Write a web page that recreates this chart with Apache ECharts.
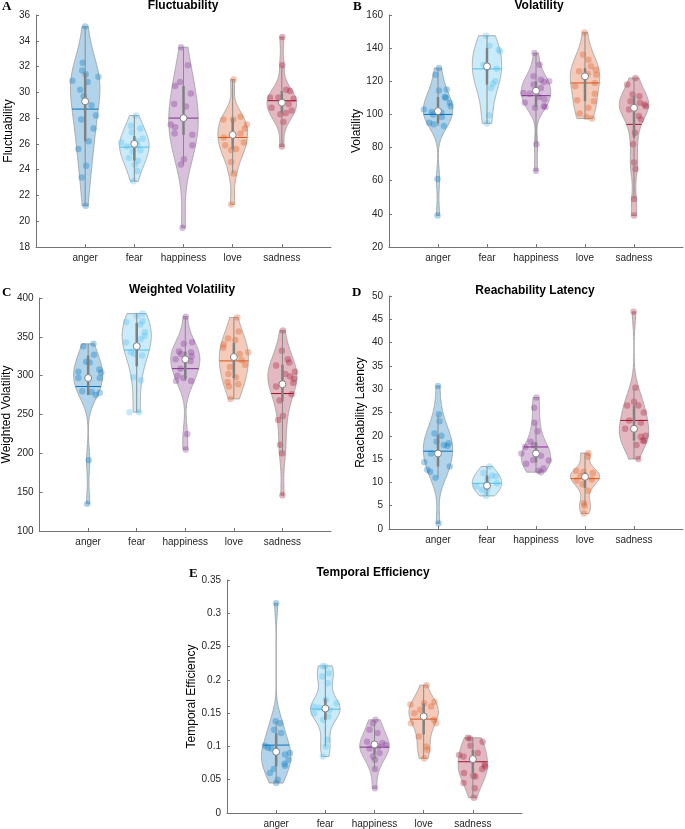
<!DOCTYPE html>
<html><head><meta charset="utf-8">
<script src="https://cdn.jsdelivr.net/npm/echarts@6/dist/echarts.min.js"></script>
<style>html,body{margin:0;padding:0;background:#fff}#c{width:685px;height:829px}</style>
</head><body><div id="c"></div>
<script>
const categories = ['anger','fear','happiness','love','sadness'];
const groupColors = ['#0072BD','#4DBEEE','#7E2F8E','#D95319','#A2142F'];

// ---- A: Fluctuability ----
const flucValues = [
  [35.1,32.3,31.7,31.4,30.9,31.2,30.8,30.2,29.7,29.0,28.2,27.9,27.2,26.2,25.6,24.3,23.4,21.2],
  [28.2,27.4,27.2,26.9,26.4,26.1,26.2,25.8,25.9,25.5,25.4,24.9,24.7,24.4,23.9,23.1],
  [33.5,32.1,30.8,30.5,29.9,29.1,28.9,28.0,27.5,27.3,26.8,26.7,25.9,24.8,24.4,19.5],
  [31.0,28.1,27.9,27.9,27.5,27.2,26.8,26.5,26.1,25.9,25.6,25.5,24.6,23.7,21.3],
  [34.3,32.1,30.2,30.1,29.6,29.6,29.5,29.1,28.8,28.6,28.3,28.4,27.7,25.8]
];
const flucJitter = [
  [0,-0.05,-0.06,0.01,-0.26,0.27,0.05,-0.1,-0.03,0.13,0.22,-0.08,0.17,0.07,-0.14,0.02,-0.07,0.01],
  [0.03,-0.07,0.12,-0.05,0.17,-0.27,0.05,-0.15,0.06,0.12,-0.04,-0.11,0.07,0.01,0.06,-0.02],
  [-0.05,0.09,-0.07,-0.17,0.15,-0.19,0.05,0,-0.26,-0.17,-0.18,0.18,0.18,0.01,-0.05,-0.02],
  [0.02,0.16,-0.19,0.01,0.29,0.25,0.16,-0.18,0.23,-0.15,0.07,-0.03,-0.03,0.02,-0.03],
  [0.01,0.01,0.09,0.17,-0.07,-0.24,0.24,0.14,-0.21,0.2,-0.03,0.08,0.03,0]
];
const flucMeans = [28.7,25.75,28.0,26.5,29.35];
const flucMedians = [29.3,26.0,28.0,26.7,29.2];
const flucBoxes = [[26.2,31.5],[24.7,26.6],[26.7,30.5],[25.6,28.0],[28.4,30.1]];
const flucWhiskers = [[21.2,35.1],[23.1,28.2],[24.4,33.5],[23.7,31.0],[25.8,32.1]];

// ---- B: Volatility ----
const volValues = [
  [128,124,114.5,115,110.5,110,107,105,103,101.5,101,100,98.5,95,94,93,61,39],
  [147.5,141.5,139,138,130,128,127.5,120,118.5,116,99.5,94.6],
  [137,130,123,121,120,119.5,118,116,114.3,113,112.5,110.5,109,107,105,104.5,104,82,66],
  [149.5,136,133,129,127,126,124.5,124,123,119,117,112.5,108.5,108,104,100.5,98.5,97.5],
  [122,118,112,111,108,107,106,105,104,103,99,97,89,82,71,67,49,39]
];
const volJitter = [
  [0.02,-0.05,0.02,0.18,0.14,0.16,0.24,0.26,-0.29,-0.13,0.07,-0.1,0.08,-0.18,-0.09,0.12,-0.01,-0.01],
  [-0.02,0.05,0.24,0.27,-0.07,0,0.2,0.17,0.12,0.08,0.04,0],
  [-0.03,0.07,-0.05,0.1,0.27,0.16,-0.05,0.1,0,-0.26,-0.13,0.06,0.17,-0.23,0.16,0.19,-0.02,0.01,0],
  [-0.01,-0.04,0.07,0.12,0.22,-0.12,0.06,0.23,0,0.2,-0.2,0.2,-0.16,0.18,0.07,-0.11,0.03,0.14],
  [0.03,-0.14,-0.03,0.11,-0.07,0.12,0.22,0.24,0,-0.1,0.1,0.14,0.02,-0.02,0,0.03,0,0]
];
const volMeans = [100,127.5,111.3,119,94];
const volMedians = [102,129,114.3,123,104];
const volBoxes = [[94.5,110.5],[118,140],[104.5,120],[108,128],[86,111]];
const volWhiskers = [[93,128],[94.6,147.5],[82,137],[97.5,149.5],[49,122]];

// ---- C: Weighted Volatility ----
const wvolValues = [
  [341,338,327,318,317,308,305,304,297,297,297,280,279,278,275,191,135],
  [380,377,370,369,366,356,351,347,343,338,330,328,326,298,294,253,253],
  [376,343,341,331,330,328,325,321,321,319,309,300,297,293,293,225,205],
  [375,357,348,346,340,336,330,328,324,320,314,311,302,298,292,289,286,270],
  [358,332,321,317,313,305,302,299,296,291,289,286,276,268,248,243,211,200,146]
];
const wvolJitter = [
  [0.11,-0.1,0.12,-0.04,0.03,0.23,-0.2,0.27,-0.2,0,0.24,-0.12,0.07,0.24,0.16,0.01,-0.02],
  [0.12,0,0.12,-0.22,0.07,0.17,0.16,0.08,-0.22,0,-0.12,-0.05,0.11,-0.07,0.09,-0.15,0.05],
  [0.01,0.14,-0.03,-0.13,0.12,-0.09,0.13,-0.2,0,0.11,-0.1,-0.16,-0.04,0.12,-0.19,0.04,0.01],
  [0.07,0.1,-0.12,0.03,-0.21,-0.22,0.3,0.12,0,0.16,0.23,-0.08,-0.11,0.04,-0.13,0.09,-0.1,-0.07],
  [0.01,-0.01,0.11,0.14,-0.13,0.26,0.06,0.16,0.24,0.22,0,-0.13,0.19,-0.06,0.01,-0.09,-0.05,-0.01,0]
];
const wvolMeans = [286,333,309,319,277];
const wvolMedians = [297,338,321,324,289];
const wvolBoxes = [[275,326],[312,368],[296,331],[297,342],[267,314]];
const wvolWhiskers = [[275,341],[253,380],[293,376],[270,375],[200,358]];

// ---- D: Reachability Latency ----
const reachValues = [
  [30.7,24.6,23.1,20.5,20,18.8,18.4,18,17.8,16.2,16.2,14.3,13.4,12.7,12.3,11,1.2],
  [13.4,12,11.5,11.3,10.6,9.8,9.4,9.2,8.4,8.2,7.1],
  [28.2,26,22.8,21,18.7,18,17.6,16.3,16.2,15.7,14.8,14.7,14,13,12.5,12.2],
  [16.3,15.5,12.5,12.3,12,11.4,11.2,10.6,10.4,9.6,8.2,5.5,5,3.3],
  [46.6,30.3,27.3,26.5,26.5,25,23.3,22.8,21.5,21.5,20,19.8,19,18.9,18,15]
];
const reachJitter = [
  [0,0.02,0.03,-0.07,0.07,-0.03,0.22,0.12,0.19,-0.14,0,-0.28,0.24,-0.22,-0.16,-0.05,0.01],
  [0.05,-0.07,0.1,0.18,0.01,0.2,0,-0.22,-0.1,0,-0.02],
  [0.01,-0.04,-0.03,0.03,-0.11,-0.04,-0.22,0,-0.3,0.1,-0.06,0.26,-0.2,0.15,0.05,0.1],
  [0.07,0.06,-0.18,-0.03,0.16,-0.09,0,0.14,-0.17,-0.05,0.06,-0.02,-0.01,-0.02],
  [-0.01,0.03,0,-0.14,0.09,0.2,-0.1,0.14,-0.18,0,0.24,0.14,0.18,0.21,0.05,0.09]
];
const reachMeans = [16.7,9.8,17.6,10.8,23.3];
const reachMedians = [16.2,9.3,16.2,11.2,21.5];
const reachBoxes = [[13.4,20.2],[8.4,11.5],[14.3,18.6],[8.8,12.2],[19,26.5]];
const reachWhiskers = [[11,24.6],[7.1,13.4],[12.2,22.8],[5,16.3],[15,30.3]];

// ---- E: Temporal Efficiency ----
const teffValues = [
  [0.315,0.138,0.135,0.125,0.12,0.101,0.098,0.097,0.092,0.09,0.088,0.08,0.074,0.071,0.066,0.06,0.05,0.045],
  [0.221,0.22,0.21,0.205,0.195,0.17,0.165,0.16,0.158,0.157,0.155,0.15,0.145,0.14,0.11,0.1,0.085],
  [0.14,0.135,0.125,0.12,0.107,0.105,0.103,0.102,0.1,0.097,0.09,0.085,0.08,0.066,0.037],
  [0.192,0.167,0.165,0.163,0.16,0.155,0.15,0.145,0.14,0.135,0.135,0.115,0.1,0.095,0.082],
  [0.113,0.112,0.107,0.101,0.09,0.087,0.085,0.081,0.073,0.07,0.066,0.06,0.056,0.055,0.045,0.037,0.023]
];
const teffJitter = [
  [0,-0.01,0.08,-0.04,0.1,-0.23,-0.17,-0.1,0,0.28,0.18,0.25,0.17,0.18,-0.05,-0.13,0.03,0],
  [-0.05,0,0.07,-0.06,0.05,0.01,0.23,-0.24,-0.13,0,0.08,-0.23,0.06,-0.04,0.04,0.01,-0.05],
  [0.02,-0.03,-0.1,0.06,-0.15,0.16,0,0.23,0.08,-0.1,0.1,-0.03,0.01,0.01,0.01],
  [0.06,0.22,0.01,-0.27,0.15,-0.07,-0.19,0,0.21,0.25,-0.26,-0.1,0.05,0.08,0.01],
  [-0.1,-0.06,0.2,-0.05,0.1,-0.28,-0.19,0,0.24,0.25,0.19,-0.18,0.01,0.05,-0.19,0.04,0.02]
];
const teffMeans = [0.102,0.156,0.099,0.141,0.077];
const teffMedians = [0.092,0.157,0.103,0.145,0.081];
const teffBoxes = [[0.07,0.12],[0.14,0.172],[0.088,0.107],[0.118,0.165],[0.06,0.095]];
const teffWhiskers = [[0.045,0.138],[0.1,0.221],[0.066,0.135],[0.082,0.192],[0.023,0.113]];

// ---- panel layout ----
const panels = [
  {letter:'A', title:'Fluctuability', yName:'Fluctuability', values:flucValues, jitter:flucJitter, means:flucMeans, medians:flucMedians, boxes:flucBoxes, whiskers:flucWhiskers,
   yMin:18, yMax:36, yInt:2, grid:{left:36, top:15, width:295, height:232}, nameGap:20, letterXY:[2,7], titleXY:[183,6]},
  {letter:'B', title:'Volatility', yName:'Volatility', values:volValues, jitter:volJitter, means:volMeans, medians:volMedians, boxes:volBoxes, whiskers:volWhiskers,
   yMin:20, yMax:160, yInt:20, grid:{left:389, top:15, width:294, height:232}, nameGap:23, letterXY:[353,7], titleXY:[539,6]},
  {letter:'C', title:'Weighted Volatility', yName:'Weighted Volatility', values:wvolValues, jitter:wvolJitter, means:wvolMeans, medians:wvolMedians, boxes:wvolBoxes, whiskers:wvolWhiskers,
   yMin:100, yMax:400, yInt:50, grid:{left:36, top:298, width:295, height:233}, nameGap:26, letterXY:[2,293], titleXY:[182,290]},
  {letter:'D', title:'Reachability Latency', yName:'Reachability Latency', values:reachValues, jitter:reachJitter, means:reachMeans, medians:reachMedians, boxes:reachBoxes, whiskers:reachWhiskers,
   yMin:0, yMax:50, yInt:5, grid:{left:389, top:296, width:294, height:233}, nameGap:22, letterXY:[352,293], titleXY:[535,291]},
  {letter:'E', title:'Temporal Efficiency', yName:'Temporal Efficiency', values:teffValues, jitter:teffJitter, means:teffMeans, medians:teffMedians, boxes:teffBoxes, whiskers:teffWhiskers,
   yMin:0, yMax:0.35, yInt:0.05, grid:{left:227, top:580, width:295, height:233}, nameGap:29, letterXY:[189,574], titleXY:[373,573]}
];

function rgba(hex, a){
  const n = parseInt(hex.slice(1),16);
  return 'rgba(' + ((n>>16)&255) + ',' + ((n>>8)&255) + ',' + (n&255) + ',' + a + ')';
}
function median(a){
  const s=[...a].sort((x,y)=>x-y); const n=s.length;
  return n%2 ? s[(n-1)/2] : (s[n/2-1]+s[n/2])/2;
}
const HALF_WIDTH = 0.3;
function kde(vals){
  const n=vals.length; const med=median(vals);
  let sig = median(vals.map(v=>Math.abs(v-med)))/0.6745;
  if(!(sig>0)){
    const m=vals.reduce((a,b)=>a+b,0)/n;
    sig=Math.sqrt(vals.reduce((a,b)=>a+(b-m)*(b-m),0)/(n-1));
  }
  const bw = sig*Math.pow(4/(3*n),0.2);
  const lo=Math.min(...vals), hi=Math.max(...vals);
  const dens = y => { let d=0; for(const v of vals){const z=(y-v)/bw; d+=Math.exp(-0.5*z*z);} return d; };
  const N=120, ys=[], ds=[];
  for(let i=0;i<N;i++){ const y=lo+(hi-lo)*i/(N-1); ys.push(y); ds.push(dens(y)); }
  const mx=Math.max(...ds);
  return {ys, ws: ds.map(d=>d/mx*HALF_WIDTH), widthAt: y => dens(y)/mx*HALF_WIDTH};
}

const FONT = '"Liberation Sans", Arial, Helvetica, sans-serif';
const AXIS_COLOR = '#737373';
const grids=[], xAxes=[], yAxes=[], series=[], graphics=[];

panels.forEach((p, i) => {
  grids.push(Object.assign({containLabel:false}, p.grid));
  xAxes.push({
    type:'value', gridIndex:i, min:0, max:6, interval:1,
    axisLine:{show:true, onZero:false, lineStyle:{color:AXIS_COLOR, width:1}},
    axisTick:{show:true, inside:true, length:3, customValues:[1,2,3,4,5], lineStyle:{color:AXIS_COLOR}},
    axisLabel:{show:true, customValues:[1,2,3,4,5], formatter: v => categories[Math.round(v)-1] || '',
      color:'#262626', fontSize:10, fontFamily:FONT, margin:6},
    splitLine:{show:false}
  });
  yAxes.push({
    type:'value', gridIndex:i, min:p.yMin, max:p.yMax, interval:p.yInt,
    name:p.yName, nameLocation:'middle', nameRotate:90, nameGap:p.nameGap,
    nameTextStyle:{color:'#000', fontSize:12, fontFamily:FONT},
    axisLine:{show:true, lineStyle:{color:AXIS_COLOR, width:1}},
    axisTick:{show:true, inside:true, length:3, lineStyle:{color:AXIS_COLOR}},
    axisLabel:{color:'#262626', fontSize:10, fontFamily:FONT, margin:6},
    splitLine:{show:false}
  });
  const kdes = p.values.map(kde);
  // violins
  series.push({
    type:'custom', xAxisIndex:i, yAxisIndex:i, z:1, silent:true,
    data: categories.map((c,g)=>[g+1, p.medians[g]]),
    renderItem:(params, api) => {
      const g=params.dataIndex, k=kdes[g], x0=g+1, pts=[];
      for(let j=0;j<k.ys.length;j++) pts.push(api.coord([x0+k.ws[j], k.ys[j]]));
      for(let j=k.ys.length-1;j>=0;j--) pts.push(api.coord([x0-k.ws[j], k.ys[j]]));
      return {type:'polygon', shape:{points:pts}, style:{fill:rgba(groupColors[g],0.3), stroke:'#9a9a9a', lineWidth:0.8}};
    }
  });
  // points
  const pts=[];
  p.values.forEach((arr,g)=>arr.forEach((v,j)=>pts.push([g+1+p.jitter[g][j], v, g])));
  series.push({
    type:'scatter', xAxisIndex:i, yAxisIndex:i, z:2, silent:true, symbolSize:6.5,
    data:pts,
    itemStyle:{color: prm => rgba(groupColors[prm.value[2]], 0.4), borderWidth:0}
  });
  // stats
  series.push({
    type:'custom', xAxisIndex:i, yAxisIndex:i, z:3, silent:true,
    data: categories.map((c,g)=>[g+1, p.medians[g]]),
    renderItem:(params, api) => {
      const g=params.dataIndex, k=kdes[g], x0=g+1;
      const wm = k.widthAt(p.means[g]);
      const mL=api.coord([x0-wm, p.means[g]]), mR=api.coord([x0+wm, p.means[g]]);
      const wLo=api.coord([x0, p.whiskers[g][0]]), wHi=api.coord([x0, p.whiskers[g][1]]);
      const bLo=api.coord([x0, p.boxes[g][0]]), bHi=api.coord([x0, p.boxes[g][1]]);
      const md=api.coord([x0, p.medians[g]]);
      return {type:'group', children:[
        {type:'line', shape:{x1:mL[0],y1:mL[1],x2:mR[0],y2:mR[1]}, style:{stroke:groupColors[g], lineWidth:1}},
        {type:'line', shape:{x1:wLo[0],y1:wLo[1],x2:wHi[0],y2:wHi[1]}, style:{stroke:'#8a8a8a', lineWidth:1}},
        {type:'line', shape:{x1:bLo[0],y1:bLo[1],x2:bHi[0],y2:bHi[1]}, style:{stroke:'#808080', lineWidth:2.5}},
        {type:'circle', shape:{cx:md[0], cy:md[1], r:3.5}, style:{fill:'#ffffff', stroke:'#808080', lineWidth:1}}
      ]};
    }
  });
  graphics.push({type:'text', x:p.titleXY[0], y:p.titleXY[1], silent:true,
    style:{text:p.title, font:'bold 12px ' + FONT, fill:'#000', align:'center', verticalAlign:'middle', textAlign:'center', textVerticalAlign:'middle'}});
  graphics.push({type:'text', x:p.letterXY[0], y:p.letterXY[1], silent:true,
    style:{text:p.letter, font:'bold 13px "Liberation Serif", "Times New Roman", serif', fill:'#000', align:'left', verticalAlign:'middle', textAlign:'left', textVerticalAlign:'middle'}});
});

const chart = echarts.init(document.getElementById('c'), null, {renderer:'canvas'});
chart.setOption({
  animation:false,
  backgroundColor:'#ffffff',
  grid:grids, xAxis:xAxes, yAxis:yAxes, series:series, graphic:graphics
});
</script>
</body></html>
